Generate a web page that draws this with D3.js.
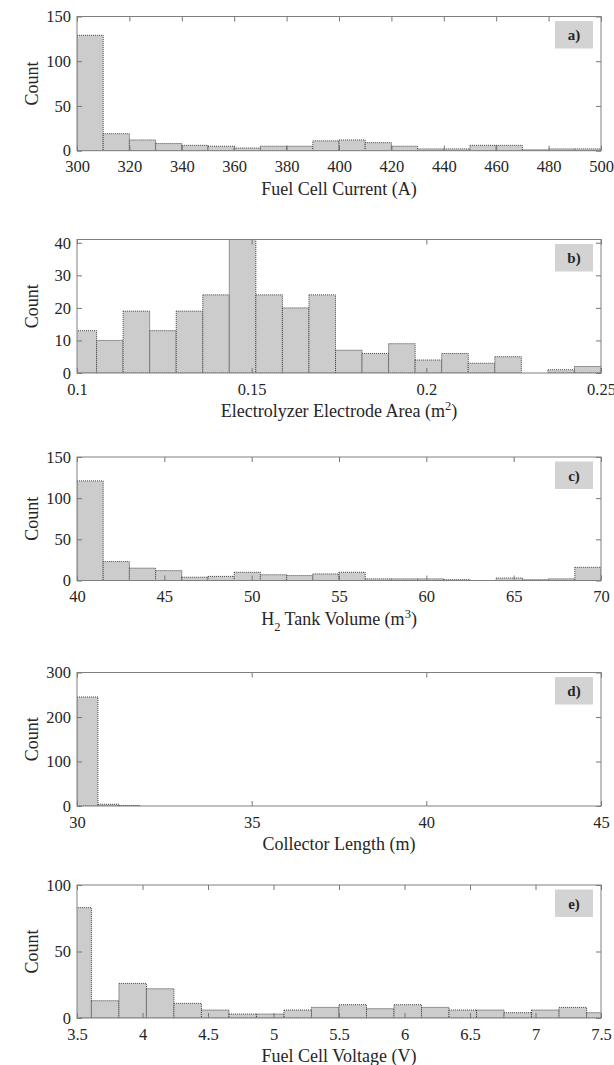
<!DOCTYPE html>
<html>
<head>
<meta charset="utf-8">
<script src="https://cdn.jsdelivr.net/npm/d3@7"></script>
<style>
  body { margin: 0; background: #fff; }
  text { font-family: "Liberation Serif", "Times New Roman", serif; fill: #262626; }
</style>
</head>
<body>
<div id="chart"></div>
<script>
// Histogram data: bin edges (lower edges + last upper edge) and counts

// a) Fuel Cell Current
const aEdges = [300, 310, 320, 330, 340, 350, 360, 370, 380, 390, 400, 410, 420, 430, 440, 450, 460, 470, 480, 490, 500];
const aCounts = [129, 19, 12, 8, 6, 5, 3, 5, 5, 11, 12, 9, 5, 2, 2, 6, 6, 1, 2, 2];
const aXTicks = [300, 320, 340, 360, 380, 400, 420, 440, 460, 480, 500];
const aYTicks = [0, 50, 100, 150];

// b) Electrolyzer Electrode Area
const bEdges = [0.0980, 0.1056, 0.1132, 0.1208, 0.1284, 0.1360, 0.1436, 0.1512, 0.1588, 0.1664, 0.1740,
                0.1816, 0.1892, 0.1968, 0.2044, 0.2120, 0.2196, 0.2272, 0.2348, 0.2424, 0.2500];
const bCounts = [13, 10, 19, 13, 19, 24, 41, 24, 20, 24, 7, 6, 9, 4, 6, 3, 5, 0, 1, 2];
const bXTicks = [0.1, 0.15, 0.2, 0.25];
const bYTicks = [0, 10, 20, 30, 40];

// c) H2 Tank Volume
const cEdges = [40, 41.5, 43, 44.5, 46, 47.5, 49, 50.5, 52, 53.5, 55, 56.5, 58, 59.5, 61, 62.5, 64, 65.5, 67, 68.5, 70];
const cCounts = [121, 23, 15, 12, 4, 5, 10, 7, 6, 8, 10, 2, 2, 2, 1, 0, 3, 1, 2, 16];
const cXTicks = [40, 45, 50, 55, 60, 65, 70];
const cYTicks = [0, 50, 100, 150];

// d) Collector Length
const dEdges = [30, 30.6, 31.2, 31.8];
const dCounts = [245, 4, 1];
const dXTicks = [30, 35, 40, 45];
const dYTicks = [0, 100, 200, 300];

// e) Fuel Cell Voltage
const eEdges = [3.40, 3.61, 3.82, 4.03, 4.24, 4.45, 4.66, 4.87, 5.08, 5.29, 5.50, 5.71, 5.92, 6.13, 6.34,
                6.55, 6.76, 6.97, 7.18, 7.39, 7.60];
const eCounts = [83, 13, 26, 22, 11, 6, 3, 3, 6, 8, 10, 7, 10, 8, 6, 6, 4, 6, 8, 4];
const eXTicks = [3.5, 4, 4.5, 5, 5.5, 6, 6.5, 7, 7.5];
const eYTicks = [0, 50, 100];

// panel tags and axis titles (segments: [text, "", "sup" or "sub"])
const tags = ["a)", "b)", "c)", "d)", "e)"];
const xTitles = [
  [["Fuel Cell Current (A)", ""]],
  [["Electrolyzer Electrode Area (m", ""], ["2", "sup"], [")", ""]],
  [["H", ""], ["2", "sub"], [" Tank Volume (m", ""], ["3", "sup"], [")", ""]],
  [["Collector Length (m)", ""]],
  [["Fuel Cell Voltage (V)", ""]]
];
const yTitle = "Count";

const W = 614, H = 1065;
const xLeft = 77, xRight = 601;

const panels = [
  { edges: aEdges, counts: aCounts, xTicks: aXTicks, yTicks: aYTicks, yMax: 150, top: 16.5, bottom: 150.7 },
  { edges: bEdges, counts: bCounts, xTicks: bXTicks, yTicks: bYTicks, yMax: 41, top: 239.5, bottom: 373 },
  { edges: cEdges, counts: cCounts, xTicks: cXTicks, yTicks: cYTicks, yMax: 150, top: 457, bottom: 580.5 },
  { edges: dEdges, counts: dCounts, xTicks: dXTicks, yTicks: dYTicks, yMax: 300, top: 672.5, bottom: 806 },
  { edges: eEdges, counts: eCounts, xTicks: eXTicks, yTicks: eYTicks, yMax: 100, top: 885, bottom: 1018 }
];

const svg = d3.select("#chart")
  .append("svg")
  .attr("width", W)
  .attr("height", H);

panels.forEach(function(p, i) {
  const xDomain = [p.xTicks[0], p.xTicks[p.xTicks.length - 1]];
  const x = d3.scaleLinear().domain(xDomain).range([xLeft, xRight]);
  const y = d3.scaleLinear().domain([0, p.yMax]).range([p.bottom, p.top]);

  const g = svg.append("g");

  // clip so partial bins at the edges stay inside the frame
  const clipId = "clip" + i;
  svg.append("clipPath").attr("id", clipId)
    .append("rect")
    .attr("x", xLeft).attr("y", p.top)
    .attr("width", xRight - xLeft).attr("height", p.bottom - p.top);

  const bins = p.counts.map(function(c, j) {
    return { x0: p.edges[j], x1: p.edges[j + 1], count: c };
  });

  g.append("g")
    .attr("clip-path", "url(#" + clipId + ")")
    .selectAll("rect")
    .data(bins)
    .enter().append("rect")
    .attr("x", function(d) { return x(d.x0); })
    .attr("width", function(d) { return x(d.x1) - x(d.x0); })
    .attr("y", function(d) { return y(d.count); })
    .attr("height", function(d) { return p.bottom - y(d.count); })
    .attr("fill", "#cccccc")
    .attr("stroke", "#333")
    .attr("stroke-width", 0.9)
    .attr("stroke-dasharray", "1,1");

  // axes with inward ticks on all four sides
  const bottomAxis = d3.axisBottom(x).tickValues(p.xTicks)
    .tickFormat(function(d) { return String(d); })
    .tickSize(-5).tickPadding(10);
  const leftAxis = d3.axisLeft(y).tickValues(p.yTicks)
    .tickFormat(function(d) { return String(d); })
    .tickSize(-5).tickPadding(6);

  const gb = g.append("g").attr("transform", "translate(0," + p.bottom + ")").call(bottomAxis);
  const gl = g.append("g").attr("transform", "translate(" + xLeft + ",0)").call(leftAxis);
  const gt = g.append("g").attr("transform", "translate(0," + p.top + ")")
    .call(d3.axisTop(x).tickValues(p.xTicks).tickFormat("").tickSize(-5));
  const gr = g.append("g").attr("transform", "translate(" + xRight + ",0)")
    .call(d3.axisRight(y).tickValues(p.yTicks).tickFormat("").tickSize(-5));

  [gb, gl, gt, gr].forEach(function(a) {
    a.select(".domain").remove();
    a.selectAll(".tick line").attr("stroke", "#777");
    a.selectAll("text")
      .style("font-family", '"Liberation Serif", "Times New Roman", serif')
      .style("font-size", "16.5px")
      .attr("fill", "#262626");
  });

  // frame
  g.append("rect")
    .attr("x", xLeft).attr("y", p.top)
    .attr("width", xRight - xLeft).attr("height", p.bottom - p.top)
    .attr("fill", "none")
    .attr("stroke", "#808080")
    .attr("stroke-width", 1);

  // panel tag box
  g.append("rect")
    .attr("x", 555).attr("y", p.top + 4.5)
    .attr("width", 38).attr("height", 27.5)
    .attr("fill", "#d3d3d3");
  g.append("text")
    .attr("x", 574).attr("y", p.top + 18.5)
    .attr("dy", "0.35em")
    .attr("text-anchor", "middle")
    .style("font-size", "15px")
    .style("font-weight", "bold")
    .attr("fill", "#111")
    .text(tags[i]);

  // y title
  g.append("text")
    .attr("transform", "translate(32," + (p.top + p.bottom) / 2 + ") rotate(-90)")
    .attr("text-anchor", "middle")
    .attr("dy", "0.35em")
    .style("font-size", "18px")
    .text(yTitle);

  // x title with sub/superscripts
  const xt = g.append("text")
    .attr("x", (xLeft + xRight) / 2)
    .attr("y", p.bottom + 44)
    .attr("text-anchor", "middle")
    .style("font-size", "18px");
  let shift = 0;
  xTitles[i].forEach(function(seg) {
    const t = xt.append("tspan").text(seg[0]);
    let target = 0;
    if (seg[1] === "sup") { target = -7; t.style("font-size", "12.5px"); }
    if (seg[1] === "sub") { target = 6; t.style("font-size", "12.5px"); }
    t.attr("dy", target - shift);
    shift = target;
  });
});
</script>
</body>
</html>
